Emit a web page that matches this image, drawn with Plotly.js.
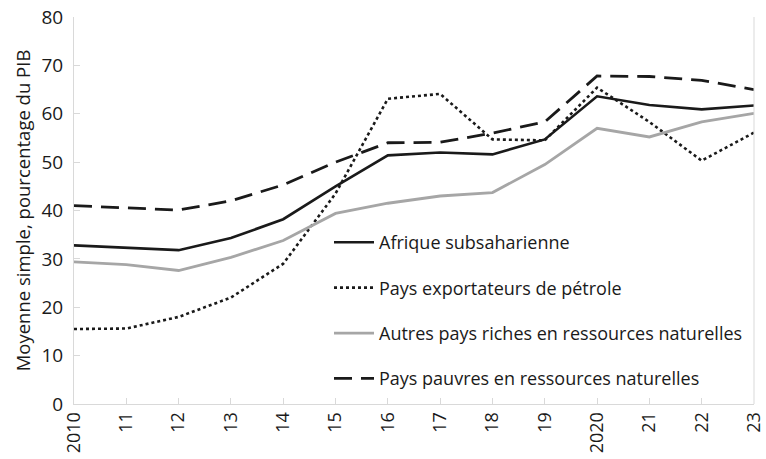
<!DOCTYPE html>
<html>
<head>
<meta charset="utf-8">
<script src="https://cdn.plot.ly/plotly-3.0.1.min.js"></script>
<style>html,body{margin:0;padding:0;background:#fff;}#chart{width:766px;height:459px;}</style>
</head>
<body>
<div id="chart"></div>
<script>
const years = [2010, 2011, 2012, 2013, 2014, 2015, 2016, 2017, 2018, 2019, 2020, 2021, 2022, 2023];
const tickLabels = ['2010', '11', '12', '13', '14', '15', '16', '17', '18', '19', '2020', '21', '22', '23'];
const afrique = [32.8, 32.3, 31.8, 34.3, 38.2, 45.0, 51.4, 52.0, 51.6, 54.7, 63.6, 61.8, 60.9, 61.7];
const petrole = [15.5, 15.6, 18.0, 22.0, 29.0, 43.5, 63.1, 64.1, 54.7, 54.5, 65.4, 58.3, 50.3, 56.1];
const autresRiches = [29.4, 28.8, 27.6, 30.3, 33.8, 39.4, 41.5, 43.0, 43.7, 49.5, 57.0, 55.2, 58.3, 60.1];
const pauvres = [41.0, 40.5, 40.1, 42.0, 45.3, 50.0, 54.0, 54.1, 56.0, 58.3, 67.8, 67.7, 66.9, 65.0];

const names = ['Afrique subsaharienne', 'Pays exportateurs de pétrole', 'Autres pays riches en ressources naturelles', 'Pays pauvres en ressources naturelles'];

const traces = [
  {x: years, y: afrique, name: names[0], legendgroup: 'a', mode: 'lines', line: {color: '#1a1a1a', width: 2.6}},
  {x: years, y: petrole, name: names[1], legendgroup: 'b', mode: 'lines', line: {color: '#1a1a1a', width: 2.6, dash: 'dot'}},
  {x: years, y: autresRiches, name: names[2], legendgroup: 'c', mode: 'lines', line: {color: '#a6a6a6', width: 2.8}},
  {x: years, y: pauvres, name: names[3], legendgroup: 'd', mode: 'lines', line: {color: '#1a1a1a', width: 2.8, dash: '18px,9px'}}
];

const font = 'Open Sans, Noto Sans, sans-serif';
const layout = {
  width: 766, height: 459,
  margin: {l: 74, r: 12, t: 17, b: 55},
  paper_bgcolor: '#fff', plot_bgcolor: '#fff',
  font: {family: font, color: '#1a1a1a', size: 18},
  showlegend: true,
  legend: {x: 0.375, y: 0.465, xanchor: 'left', yanchor: 'top', bgcolor: 'rgba(0,0,0,0)',
           font: {family: font, size: 18, color: '#1a1a1a'}, tracegroupgap: 19, itemwidth: 40},
  xaxis: {
    range: [2010, 2023], tickmode: 'array', tickvals: years, ticktext: tickLabels,
    tickangle: -90, showgrid: false, zeroline: false, showline: true, linecolor: '#d9d9d9', linewidth: 1,
    ticks: 'inside', ticklen: 6, tickcolor: '#d9d9d9', tickfont: {family: font, size: 18, color: '#1a1a1a'}
  },
  yaxis: {
    range: [0, 80], dtick: 10, showgrid: false, zeroline: false, showline: true, linecolor: '#d9d9d9', linewidth: 1,
    ticks: 'inside', ticklen: 6, tickcolor: '#d9d9d9', tickfont: {family: font, size: 19, color: '#1a1a1a'},
    ticklabelstandoff: 6,
    title: {text: 'Moyenne simple, pourcentage du PIB', font: {family: font, size: 18.5, color: '#1a1a1a'}, standoff: 5}
  },
  shapes: [
    {type: 'line', xref: 'paper', yref: 'paper', x0: 1, x1: 1, y0: 0, y1: 1, line: {color: '#d9d9d9', width: 1}}
  ]
};

Plotly.newPlot('chart', traces, layout, {staticPlot: true});
</script>
</body>
</html>
